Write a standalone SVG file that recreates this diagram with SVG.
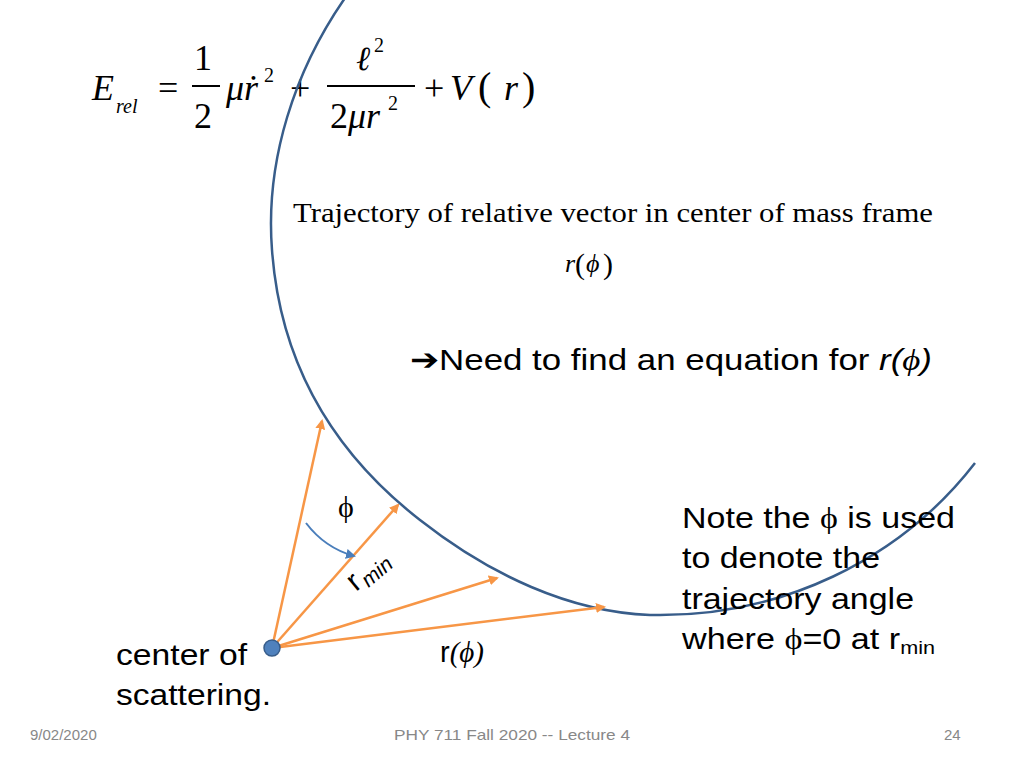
<svg xmlns="http://www.w3.org/2000/svg" width="1024" height="768" viewBox="0 0 1024 768">
<style>
.t{font-family:"Liberation Serif",serif;fill:#000}
.s{font-family:"Liberation Sans",sans-serif;fill:#000}
.f{font-family:"Liberation Sans",sans-serif;fill:#888;font-size:15px}
.a{stroke:#F79646;stroke-width:2.5;fill:none}
</style>
<defs>
<marker id="o" markerWidth="10" markerHeight="10" refX="8" refY="5" orient="auto" markerUnits="userSpaceOnUse"><path d="M0,0 L10,5 L0,10 z" fill="#F79646"/></marker>
<marker id="b" markerWidth="10" markerHeight="10" refX="8" refY="5" orient="auto" markerUnits="userSpaceOnUse"><path d="M0,0 L10,5 L0,10 z" fill="#4A7EBB"/></marker>
</defs>
<rect width="1024" height="768" fill="#fff"/>
<g id="equation">
<text class="t" x="92" y="100" font-size="36" font-style="italic">E</text>
<text class="t" x="116" y="113" font-size="20" font-style="italic">rel</text>
<text class="t" x="158" y="100" font-size="36">=</text>
<text class="t" x="194" y="70" font-size="36">1</text>
<line x1="192" y1="86" x2="220" y2="86" stroke="#000" stroke-width="2"/>
<text class="t" x="194" y="128" font-size="36">2</text>
<text class="t" x="226" y="100" font-size="36" font-style="italic">μṙ</text>
<text class="t" x="264" y="82" font-size="20">2</text>
<text class="t" x="290" y="100" font-size="36">+</text>
<text class="t" x="356" y="70" font-size="34" font-style="italic">ℓ</text>
<text class="t" x="374" y="52" font-size="20">2</text>
<line x1="327" y1="86" x2="415" y2="86" stroke="#000" stroke-width="2"/>
<text class="t" x="330" y="128" font-size="36">2</text>
<text class="t" x="348" y="128" font-size="36" font-style="italic">μr</text>
<text class="t" x="388" y="110" font-size="20">2</text>
<text class="t" x="424" y="100" font-size="36">+</text>
<text class="t" x="450" y="100" font-size="36" font-style="italic">V</text>
<text class="t" x="478" y="100" font-size="40">(</text>
<text class="t" x="504" y="100" font-size="36" font-style="italic">r</text>
<text class="t" x="522" y="100" font-size="40">)</text>
</g>
<g id="trajectory">
<path d="M345,-2 C295,70 265,160 272,250 C280,360 330,450 420,520 C490,575 570,612 650,615 C780,618 900,560 975,463" fill="none" stroke="#385D8A" stroke-width="2.5"/>
</g>
<g id="labels">
<text class="t" x="293" y="222" font-size="27" textLength="640" lengthAdjust="spacingAndGlyphs">Trajectory of relative vector in center of mass frame</text>
<text class="t" x="565" y="272" font-size="26" font-style="italic">r</text>
<text class="t" x="575" y="274" font-size="30">(</text>
<text class="t" x="586" y="272" font-size="26" font-style="italic">ϕ</text>
<text class="t" x="603" y="274" font-size="30">)</text>
<text class="s" x="410" y="370" font-size="30" textLength="522" lengthAdjust="spacingAndGlyphs">➔Need to find an equation for <tspan font-style="italic">r(</tspan><tspan class="t" font-style="italic">ϕ</tspan><tspan font-style="italic">)</tspan></text>
<text class="s" x="682" y="528" font-size="30" textLength="273" lengthAdjust="spacingAndGlyphs">Note the <tspan class="t">ϕ</tspan> is used</text>
<text class="s" x="682" y="568" font-size="30" textLength="198" lengthAdjust="spacingAndGlyphs">to denote the</text>
<text class="s" x="682" y="609" font-size="30" textLength="232" lengthAdjust="spacingAndGlyphs">trajectory angle</text>
<text class="s" x="682" y="649" font-size="30" textLength="253" lengthAdjust="spacingAndGlyphs">where <tspan class="t">ϕ</tspan>=0 at r<tspan font-size="19" dy="5">min</tspan></text>
<text class="s" x="116" y="665" font-size="30" textLength="131" lengthAdjust="spacingAndGlyphs">center of</text>
<text class="s" x="116" y="705" font-size="30" textLength="155" lengthAdjust="spacingAndGlyphs">scattering.</text>
<text class="s" x="440" y="662" font-size="29">r<tspan class="t" font-style="italic">(ϕ)</tspan></text>
<text class="t" x="338" y="517" font-size="30">ϕ</text>
<text class="s" font-size="30" transform="translate(356,592) rotate(-40)">r<tspan font-size="21" font-style="italic" dx="2" dy="5">min</tspan></text>
<text class="f" x="30" y="740">9/02/2020</text>
<text class="f" x="394" y="740" textLength="236" lengthAdjust="spacingAndGlyphs">PHY 711  Fall 2020 -- Lecture 4</text>
<text class="f" x="944" y="740">24</text>
</g>
<g id="connectors">
<line class="a" x1="272" y1="648" x2="322" y2="421" marker-end="url(#o)"/>
<line class="a" x1="272" y1="648" x2="398" y2="505" marker-end="url(#o)"/>
<line class="a" x1="272" y1="648" x2="497" y2="578" marker-end="url(#o)"/>
<line class="a" x1="272" y1="648" x2="604" y2="607" marker-end="url(#o)"/>
<path d="M306,523 Q325,548 354,556" fill="none" stroke="#4A7EBB" stroke-width="2" marker-end="url(#b)"/>
</g>
<g id="center">
<circle cx="272" cy="648" r="8" fill="#4F81BD" stroke="#385D8A" stroke-width="1.5"/>
</g>
</svg>
